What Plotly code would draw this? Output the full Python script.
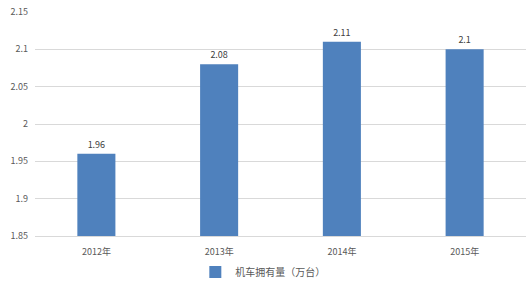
import plotly.graph_objects as go

categories = ["2012年", "2013年", "2014年", "2015年"]
values = [1.96, 2.08, 2.11, 2.1]
value_labels = ["1.96", "2.08", "2.11", "2.1"]
series_name = "机车拥有量（万台）"
y_ticks = [1.85, 1.9, 1.95, 2.0, 2.05, 2.1, 2.15]
y_tick_text = ["1.85", "1.9", "1.95", "2", "2.05", "2.1", "2.15"]

font_family = "Noto Sans CJK SC, DejaVu Sans, sans-serif"

fig = go.Figure()
fig.add_trace(go.Bar(
    x=categories, y=values, name=series_name,
    marker=dict(color="#4f81bd", line=dict(width=0)),
    width=0.31,
    text=value_labels, textposition="outside",
    textfont=dict(size=9, color="#404040", family=font_family),
    cliponaxis=False,
    showlegend=True,
))

fig.update_layout(
    width=526, height=287,
    margin=dict(l=35, r=0, t=12, b=51, autoexpand=False),
    paper_bgcolor="white", plot_bgcolor="white",
    font=dict(family=font_family, size=9, color="#595959"),
    showlegend=True,
    legend=dict(orientation="h", x=0.464, xanchor="center",
                yref="container", y=0.052, yanchor="middle",
                font=dict(size=10, color="#595959"), itemwidth=30),
    bargap=0.69,
    xaxis=dict(showgrid=False, showline=True, linecolor="#d9d9d9", linewidth=1,
               ticks="", ticklabelstandoff=7, tickfont=dict(size=9, color="#595959")),
    yaxis=dict(range=[1.85, 2.15], tickvals=y_ticks, ticktext=y_tick_text,
               showgrid=True, gridcolor="#d9d9d9", gridwidth=1, zeroline=False,
               showline=False, ticks="", ticklabelstandoff=6,
               tickfont=dict(size=9, color="#595959")),
)

fig.write_html("out.html")
